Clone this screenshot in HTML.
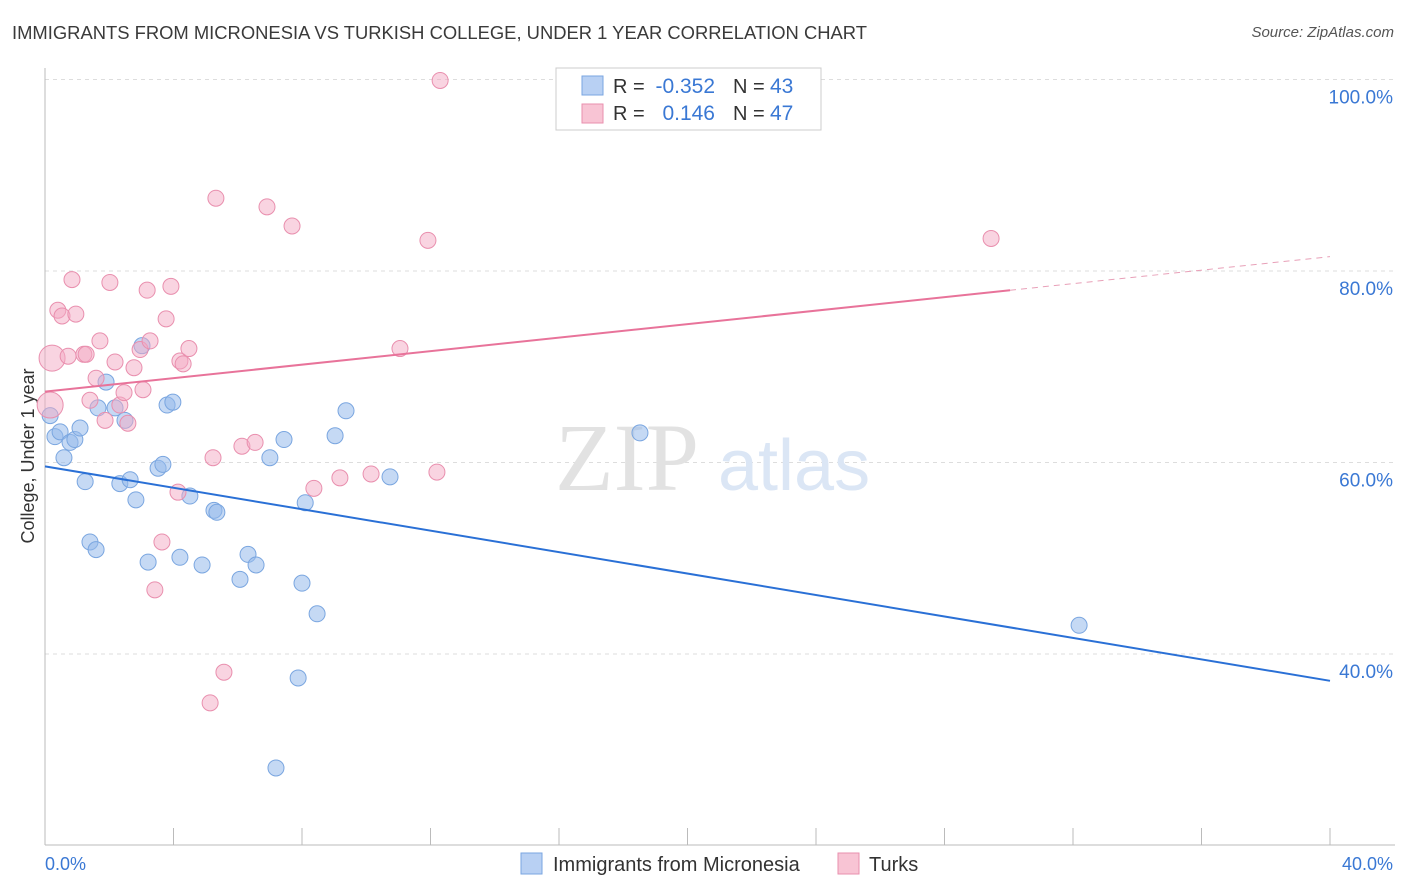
<!DOCTYPE html>
<html><head><meta charset="utf-8"><style>
body{margin:0;background:#fff;font-family:"Liberation Sans",sans-serif;}
#wrap{position:relative;width:1406px;height:892px;overflow:hidden;}
.t{position:absolute;white-space:nowrap;}
</style></head><body>
<div id="wrap">
<div class="t" style="left:12px;top:22px;font-size:18.4px;color:#3a3a3a;">IMMIGRANTS FROM MICRONESIA VS TURKISH COLLEGE, UNDER 1 YEAR CORRELATION CHART</div>
<div class="t" style="right:12px;top:24px;font-size:15px;color:#555;font-style:italic;">Source: ZipAtlas.com</div>
<svg id="svg" width="1406" height="892" style="position:absolute;left:0;top:0"></svg>
</div>
<script>
const xTicks=[0,4,8,12,16,20,24,28,32,36,40];
const yGrid=[100,80,60,40];
const yTickLabels=["100.0%","80.0%","60.0%","40.0%"];
const blueX=[0.16,0.31,0.47,0.59,0.78,0.93,1.09,1.25,1.40,1.59,1.65,1.90,2.18,2.33,2.49,2.65,2.83,3.02,3.21,3.52,3.67,3.80,3.98,4.20,4.51,4.89,5.26,5.35,6.07,6.32,6.57,7.00,7.19,7.44,7.88,8.00,8.10,8.47,9.03,9.37,10.74,18.52,32.19];
const blueY=[64.9,62.7,63.2,60.5,62.1,62.4,63.6,58.0,51.7,50.9,65.7,68.4,65.7,57.8,64.4,58.2,56.1,72.2,49.6,59.4,59.8,66.0,66.3,50.1,56.5,49.3,55.0,54.8,47.8,50.4,49.3,60.5,28.1,62.4,37.5,47.4,55.8,44.2,62.8,65.4,58.5,63.1,43.0];
const pinkX=[0.16,0.22,0.40,0.53,0.72,0.84,0.96,1.21,1.28,1.40,1.59,1.71,1.87,2.02,2.18,2.33,2.46,2.58,2.77,2.96,3.05,3.18,3.27,3.42,3.64,3.77,3.92,4.14,4.20,4.30,4.48,5.23,5.14,5.32,5.57,6.13,6.54,6.91,7.69,8.37,9.18,10.15,11.05,11.92,12.20,12.30,29.45];
const pinkY=[66.0,70.9,75.9,75.3,71.1,79.1,75.5,71.3,71.3,66.5,68.8,72.7,64.4,78.8,70.5,66.0,67.3,64.1,69.9,71.8,67.6,78.0,72.7,46.7,51.7,75.0,78.4,56.9,70.6,70.3,71.9,60.5,34.9,87.6,38.1,61.7,62.1,86.7,84.7,57.3,58.4,58.8,71.9,83.2,59.0,99.9,83.4];
const pinkBig=[1,1];
const blueTrend=[59.6,37.2];
const pinkTrend=[67.4,81.5];
const pinkSolidEnd=30.04;

const X0=45,X1=1330,Yb=79.5,PX=(X1-X0)/40,PY=191.5/20;
const sx=v=>X0+v*PX, sy=v=>Yb+(100-v)*PY;
const svg=document.getElementById('svg');const NS='http://www.w3.org/2000/svg';
function mk(tag,at,name){const e=document.createElementNS(NS,tag);for(const k in at)e.setAttribute(k,at[k]);


svg.appendChild(e);return e;}
yGrid.forEach((v,i)=>{mk('line',{x1:X0,x2:1395,y1:sy(v),y2:sy(v),stroke:'#ddd','stroke-dasharray':'4,4'},'gridline');
const t=mk('text',{x:1393,y:sy(v)+24,'text-anchor':'end','font-size':19,fill:'#3a78d4'},'y-tick-label');t.textContent=yTickLabels[i];});
mk('line',{x1:X0,x2:X0,y1:68,y2:845,stroke:'#bbb'},'y-axis');
mk('line',{x1:X0,x2:1395,y1:845,y2:845,stroke:'#bbb'},'x-axis');
xTicks.forEach(v=>mk('line',{x1:sx(v),x2:sx(v),y1:828,y2:845,stroke:'#bbb'},'x-tick'));
let t=mk('text',{x:45,y:870,'font-size':18,fill:'#3a78d4'},'x-tick-label');t.textContent='0.0%';
t=mk('text',{x:1393,y:870,'text-anchor':'end','font-size':18,fill:'#3a78d4'},'x-tick-label');t.textContent='40.0%';
t=mk('text',{x:0,y:0,'font-size':18,fill:'#333',transform:'translate(34,456) rotate(-90)','text-anchor':'middle'},'y-axis-title');t.textContent='College, Under 1 year';
t=mk('text',{x:555,y:490,'font-size':96,fill:'#e2e2e2','font-family':'Liberation Serif'},'watermark-zip');t.textContent='ZIP';
t=mk('text',{x:718,y:490,'font-size':72,fill:'#dbe6f5'},'watermark-atlas');t.textContent='atlas';
blueX.forEach((x,i)=>mk('circle',{cx:sx(x),cy:sy(blueY[i]),r:8,fill:'rgba(150,185,235,0.55)',stroke:'#7aa6e0','stroke-width':1},'blue-point'));
pinkX.forEach((x,i)=>mk('circle',{cx:sx(x),cy:sy(pinkY[i]),r:pinkBig[i]?13:8,fill:'rgba(244,170,195,0.5)',stroke:'#e98fae','stroke-width':1},'pink-point'));
mk('line',{x1:sx(0),y1:sy(blueTrend[0]),x2:sx(40),y2:sy(blueTrend[1]),stroke:'#2a70d6','stroke-width':2},'blue-trend-line');
const py=v=>pinkTrend[0]+(pinkTrend[1]-pinkTrend[0])*v/40;
mk('line',{x1:sx(0),y1:sy(py(0)),x2:sx(pinkSolidEnd),y2:sy(py(pinkSolidEnd)),stroke:'#e8739a','stroke-width':2},'pink-trend-line');
mk('line',{x1:sx(pinkSolidEnd),y1:sy(py(pinkSolidEnd)),x2:sx(40),y2:sy(py(40)),stroke:'#e8a0b8','stroke-width':1,'stroke-dasharray':'6,5'},'pink-trend-extension');
mk('rect',{x:556,y:68,width:265,height:62,fill:'#fff',stroke:'#ccc'},'legend-box');
mk('rect',{x:582,y:76,width:21,height:19,fill:'#b8d0f3',stroke:'#7aa6e0'},'legend-blue-swatch');
mk('rect',{x:582,y:104,width:21,height:19,fill:'#f8c4d4',stroke:'#e98fae'},'legend-pink-swatch');
function lt(x,y,s,c,n,a,fs){const e=mk('text',{x:x,y:y,'font-size':fs||20,fill:c,'text-anchor':a||'start'},n);e.textContent=s;}
lt(613,93,'R =','#333','legend-r-label');lt(715,93,'-0.352','#3a78d4','legend-blue-r','end',21);lt(733,93,'N =','#333','legend-n-label');lt(770,93,'43','#3a78d4','legend-blue-n','start',21);
lt(613,120,'R =','#333','legend-r-label');lt(715,120,'0.146','#3a78d4','legend-pink-r','end',21);lt(733,120,'N =','#333','legend-n-label');lt(770,120,'47','#3a78d4','legend-pink-n','start',21);
mk('rect',{x:521,y:853,width:21,height:21,fill:'#b8d0f3',stroke:'#7aa6e0'},'bottom-legend-blue-swatch');
lt(553,871,'Immigrants from Micronesia','#333','bottom-legend-blue-label');
mk('rect',{x:838,y:853,width:21,height:21,fill:'#f8c4d4',stroke:'#e98fae'},'bottom-legend-pink-swatch');
lt(869,871,'Turks','#333','bottom-legend-pink-label');
</script>
</body></html>
